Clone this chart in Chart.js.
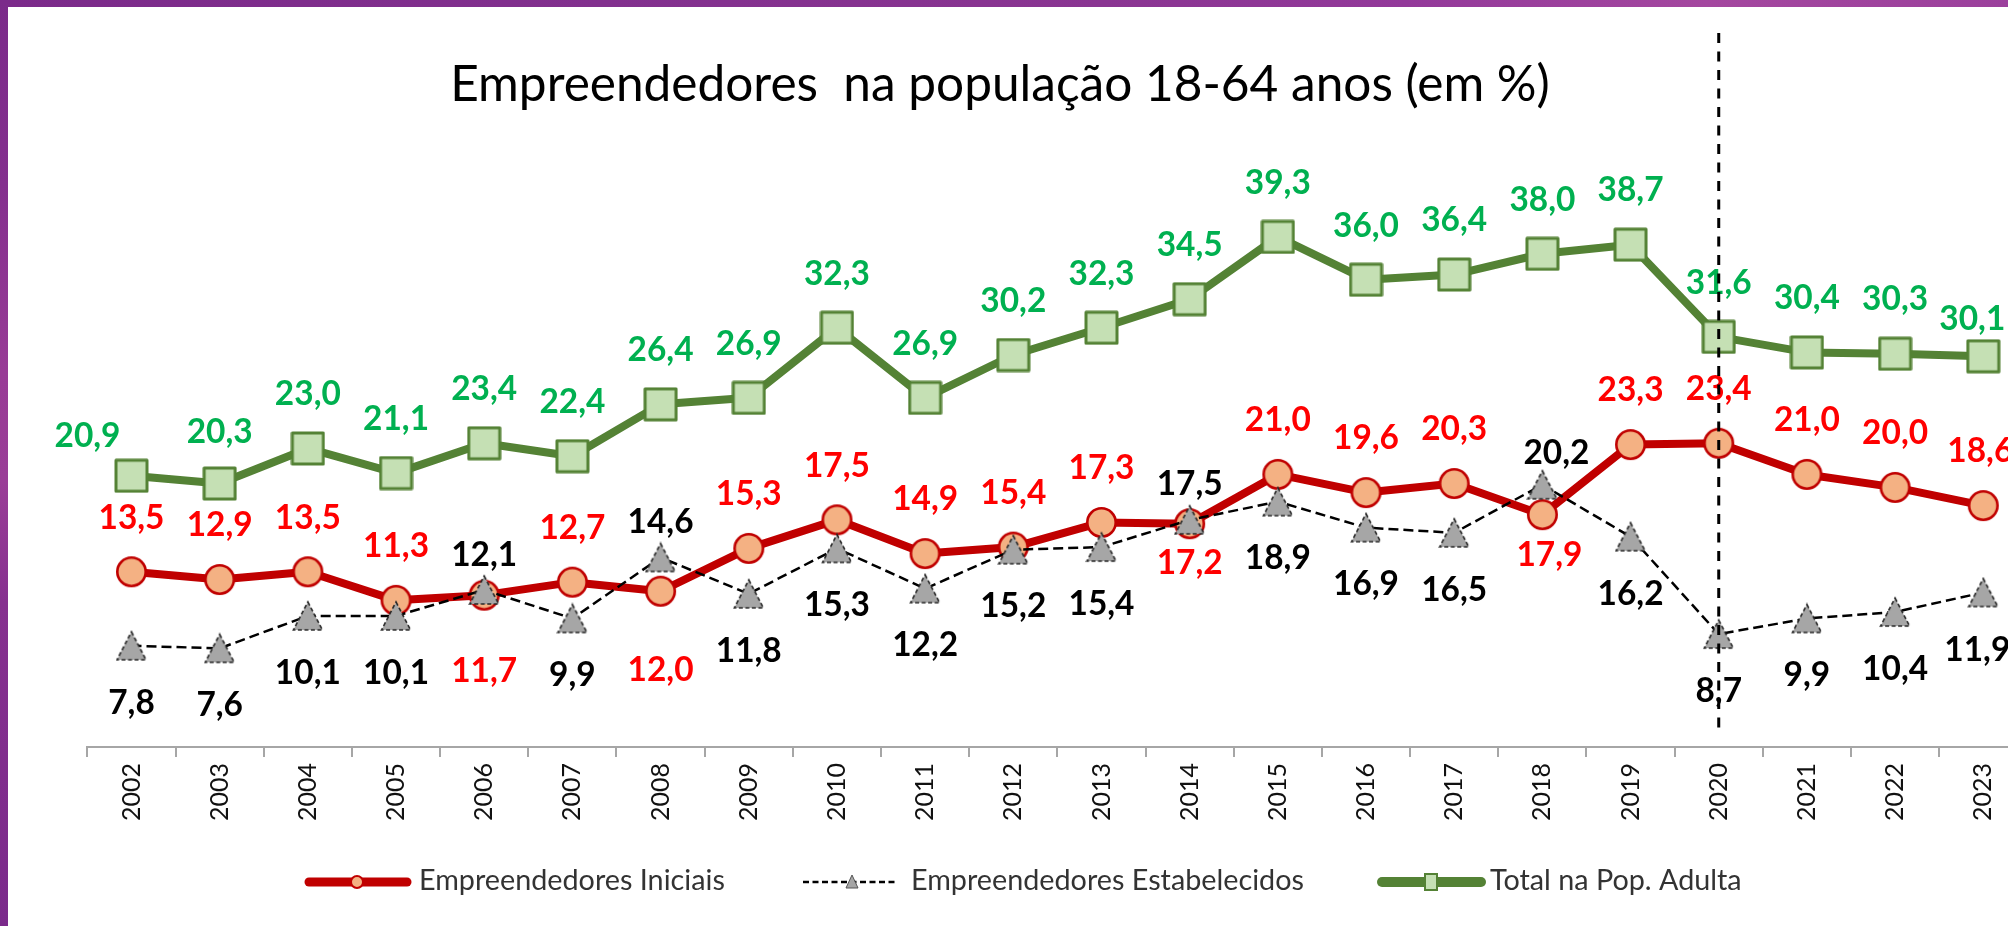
<!DOCTYPE html>
<html>
<head>
<meta charset="utf-8">
<script src="https://cdn.jsdelivr.net/npm/chart.js@4.4.1/dist/chart.umd.min.js"></script>
<style>
  html, body { margin: 0; padding: 0; width: 2008px; height: 926px; overflow: hidden; background: #7e2a8d; }
  #frameTop { position: absolute; left: 0; top: 0; width: 2008px; height: 7px;
    background: linear-gradient(90deg, #7b2a8a 0%, #82308e 30%, #8a3592 55%, #93399a 70%, #a4479f 85%, #9b409c 100%); }
  #frameLeft { position: absolute; left: 0; top: 0; width: 8px; height: 926px;
    background: linear-gradient(180deg, #7b2a8a 0%, #842f8e 20%, #983b96 40%, #9a3d97 52%, #86308f 65%, #7b2a8b 100%); }
  #panel { position: absolute; left: 8px; top: 7px; width: 2000px; height: 919px; background: #ffffff; }
  #wrap { position: absolute; left: 0; top: 0; width: 2060px; height: 926px; }
</style>
</head>
<body>
<div id="frameTop"></div>
<div id="frameLeft"></div>
<div id="panel"></div>
<div id="wrap"><canvas id="chart" width="2060" height="926" style="width:2060px;height:926px"></canvas></div>
<script>
// ---------------- data ----------------
const years = ['2002','2003','2004','2005','2006','2007','2008','2009','2010','2011','2012',
               '2013','2014','2015','2016','2017','2018','2019','2020','2021','2022','2023'];
const iniciais      = [13.5,12.9,13.5,11.3,11.7,12.7,12.0,15.3,17.5,14.9,15.4,17.3,17.2,21.0,19.6,20.3,17.9,23.3,23.4,21.0,20.0,18.6];
const estabelecidos = [7.8,7.6,10.1,10.1,12.1,9.9,14.6,11.8,15.3,12.2,15.2,15.4,17.5,18.9,16.9,16.5,20.2,16.2,8.7,9.9,10.4,11.9];
const totalAdulta   = [20.9,20.3,23.0,21.1,23.4,22.4,26.4,26.9,32.3,26.9,30.2,32.3,34.5,39.3,36.0,36.4,38.0,38.7,31.6,30.4,30.3,30.1];
const seriesNames   = ['Empreendedores Iniciais', 'Empreendedores Estabelecidos', 'Total na Pop. Adulta'];
const titleText     = 'Empreendedores  na população 18-64 anos (em %)';
const markerYear    = '2020';

// label side: 'up' above the marker, 'down' below it
const iniciaisSide = ['up','up','up','up','down','up','down','up','up','up','up','up','down','up','up','up','down','up','up','up','up','up'];
const estabSide    = ['down','down','down','down','up','down','up','down','down','down','down','down','up','down','down','down','up','down','down','down','down','down'];
const totalSide    = years.map(() => 'up');

// ---------------- layout / style ----------------
const FONT = "Lato, 'Liberation Sans', sans-serif";
const Y0 = 747, PX_PER_UNIT = 12.98, Y_MAX = 45;
const FIRST_X = 131.5, STEP_X = 88.18;
const areaLeft = FIRST_X - STEP_X / 2;
const areaRight = areaLeft + STEP_X * years.length;
const CANVAS_W = 2060, CANVAS_H = 926;

function fitSize(text, weight, targetW) {
  const c = document.createElement('canvas').getContext('2d');
  c.font = weight + ' 100px ' + FONT;
  return 100 * targetW / c.measureText(text).width;
}
const titleSize = fitSize(titleText, 'normal', 1100);
const labelSize = Math.min(35, fitSize('13,5', 'bold', 66));
const legendSize = (fitSize(seriesNames[0], 'normal', 305) + fitSize(seriesNames[1], 'normal', 392) + fitSize(seriesNames[2], 'normal', 253)) / 3;

function makeCanvas(w, h, draw) {
  const c = document.createElement('canvas');
  c.width = w; c.height = h;
  draw(c.getContext('2d'));
  return c;
}
const circleImg = makeCanvas(33, 33, (g) => {
  g.beginPath(); g.arc(16.5, 16.5, 14.2, 0, Math.PI * 2);
  g.fillStyle = '#f4b183'; g.fill();
  g.lineWidth = 2.6; g.strokeStyle = '#c00000'; g.stroke();
});
const squareImg = makeCanvas(35, 35, (g) => {
  g.lineJoin = 'round';
  g.fillStyle = '#c5e0b4'; g.fillRect(2, 2, 31, 31);
  g.lineWidth = 3; g.strokeStyle = '#548235'; g.strokeRect(2, 2, 31, 31);
});
const triImg = makeCanvas(32, 32, (g) => {
  g.beginPath(); g.moveTo(16, 2); g.lineTo(30.5, 30); g.lineTo(1.5, 30); g.closePath();
  g.fillStyle = '#a6a6a6'; g.fill();
  g.setLineDash([4, 2.5]); g.lineWidth = 1.6; g.strokeStyle = '#262626'; g.stroke();
});

// per-label fine adjustments [dx, dy] (dy replaces the default offset)
const labelAdjust = {
  0: { 4: [0, 75], 6: [0, 78], 12: [0, 38], 16: [7, 40], 21: [-3, -55] },
  1: { 4: [0, -36], 6: [0, -36], 12: [0, -37], 16: [14, -33], 21: [-6, 57] },
  2: { 0: [-44, -40], 1: [0, -52], 21: [-11, -38] }
};
const labelColors = ['#ff0000', '#000000', '#00b050'];
const labelSides = [iniciaisSide, estabSide, totalSide];
const fmt = (v) => v.toFixed(1).replace('.', ',');

const decorPlugin = {
  id: 'decor',
  afterDatasetsDraw(chart) {
    const ctx = chart.ctx;
    ctx.save();
    ctx.font = 'bold ' + labelSize + 'px ' + FONT;
    ctx.textAlign = 'center';
    ctx.textBaseline = 'middle';
    chart.data.datasets.forEach((ds, di) => {
      const meta = chart.getDatasetMeta(di);
      meta.data.forEach((pt, i) => {
        let dx = 0;
        let dy = labelSides[di][i] === 'up' ? -55 : 56;
        const adj = labelAdjust[di][i];
        if (adj) { dx = adj[0]; dy = adj[1]; }
        ctx.fillStyle = labelColors[di];
        ctx.fillText(fmt(ds.data[i]), pt.x + dx, pt.y + dy + 1);
      });
    });
    ctx.restore();
  },
  afterDraw(chart) {
    const ctx = chart.ctx;
    const xs = chart.scales.x;
    ctx.save();
    // vertical dashed marker
    const vx = xs.getPixelForValue(years.indexOf(markerYear));
    ctx.strokeStyle = '#000'; ctx.lineWidth = 3; ctx.setLineDash([10, 8.5]);
    ctx.beginPath(); ctx.moveTo(vx, 33); ctx.lineTo(vx, 733); ctx.stroke();
    ctx.setLineDash([]);

    // title
    ctx.fillStyle = '#000';
    ctx.textAlign = 'center'; ctx.textBaseline = 'alphabetic';
    ctx.font = titleSize + 'px ' + FONT;
    ctx.fillText(titleText, 1000, 83 + 0.36 * titleSize);

    // legend
    const ly = 882;
    ctx.lineCap = 'round';
    // item 1
    ctx.strokeStyle = '#c00000'; ctx.lineWidth = 9;
    ctx.beginPath(); ctx.moveTo(309, ly); ctx.lineTo(407, ly); ctx.stroke();
    ctx.beginPath(); ctx.arc(357, ly, 6, 0, Math.PI * 2);
    ctx.fillStyle = '#f4b183'; ctx.fill(); ctx.lineWidth = 2; ctx.strokeStyle = '#c00000'; ctx.stroke();
    // item 2
    ctx.lineCap = 'butt';
    ctx.strokeStyle = '#000'; ctx.lineWidth = 2.5; ctx.setLineDash([6, 3.5]);
    ctx.beginPath(); ctx.moveTo(803, ly); ctx.lineTo(897, ly); ctx.stroke();
    ctx.setLineDash([]);
    ctx.beginPath(); ctx.moveTo(852, ly - 7); ctx.lineTo(858, ly + 6); ctx.lineTo(846, ly + 6); ctx.closePath();
    ctx.fillStyle = '#a6a6a6'; ctx.fill(); ctx.lineWidth = 1; ctx.strokeStyle = '#555'; ctx.stroke();
    // item 3
    ctx.lineCap = 'round';
    ctx.strokeStyle = '#548235'; ctx.lineWidth = 10;
    ctx.beginPath(); ctx.moveTo(1382, ly); ctx.lineTo(1481, ly); ctx.stroke();
    ctx.fillStyle = '#c5e0b4'; ctx.fillRect(1425, ly - 8, 12, 16);
    ctx.lineWidth = 2; ctx.strokeStyle = '#548235'; ctx.strokeRect(1425, ly - 8, 12, 16);

    ctx.fillStyle = '#333';
    ctx.textAlign = 'left'; ctx.textBaseline = 'alphabetic';
    ctx.font = legendSize + 'px ' + FONT;
    const lb = 880 + 0.36 * legendSize;
    ctx.fillText(seriesNames[0], 419, lb);
    ctx.fillText(seriesNames[1], 911, lb);
    ctx.fillText(seriesNames[2], 1490, lb);
    ctx.restore();
  }
};

new Chart(document.getElementById('chart'), {
  type: 'line',
  data: {
    labels: years,
    datasets: [
      { label: seriesNames[0], data: iniciais, borderColor: '#c00000', backgroundColor: '#f4b183',
        borderWidth: 8, borderJoinStyle: 'round', borderCapStyle: 'round',
        pointStyle: circleImg, pointRadius: 15, tension: 0, order: 2 },
      { label: seriesNames[1], data: estabelecidos, borderColor: '#000000', backgroundColor: '#a6a6a6',
        borderWidth: 2.5, borderDash: [10, 5],
        pointStyle: triImg, pointRadius: 14, tension: 0, order: 1 },
      { label: seriesNames[2], data: totalAdulta, borderColor: '#548235', backgroundColor: '#c5e0b4',
        borderWidth: 8, borderJoinStyle: 'round', borderCapStyle: 'round',
        pointStyle: squareImg, pointRadius: 16, tension: 0, order: 3 }
    ]
  },
  options: {
    responsive: false,
    devicePixelRatio: 1,
    animation: false,
    events: [],
    layout: { padding: { left: areaLeft, right: CANVAS_W - areaRight, top: Y0 - Y_MAX * PX_PER_UNIT, bottom: 0 } },
    plugins: { legend: { display: false }, title: { display: false }, tooltip: { enabled: false } },
    scales: {
      y: { display: false, min: 0, max: Y_MAX },
      x: {
        type: 'category',
        offset: true,
        afterFit(scale) { scale.height = CANVAS_H - Y0; },
        border: { display: true, color: '#a6a6a6', width: 2 },
        grid: { display: true, drawOnChartArea: false, drawTicks: true, tickLength: 10,
                color: '#a6a6a6', lineWidth: 2, offset: true },
        ticks: { autoSkip: false, minRotation: 90, maxRotation: 90, padding: 6,
                 color: '#111', font: { family: FONT, size: 25 } }
      }
    }
  },
  plugins: [decorPlugin]
});
</script>
</body>
</html>
